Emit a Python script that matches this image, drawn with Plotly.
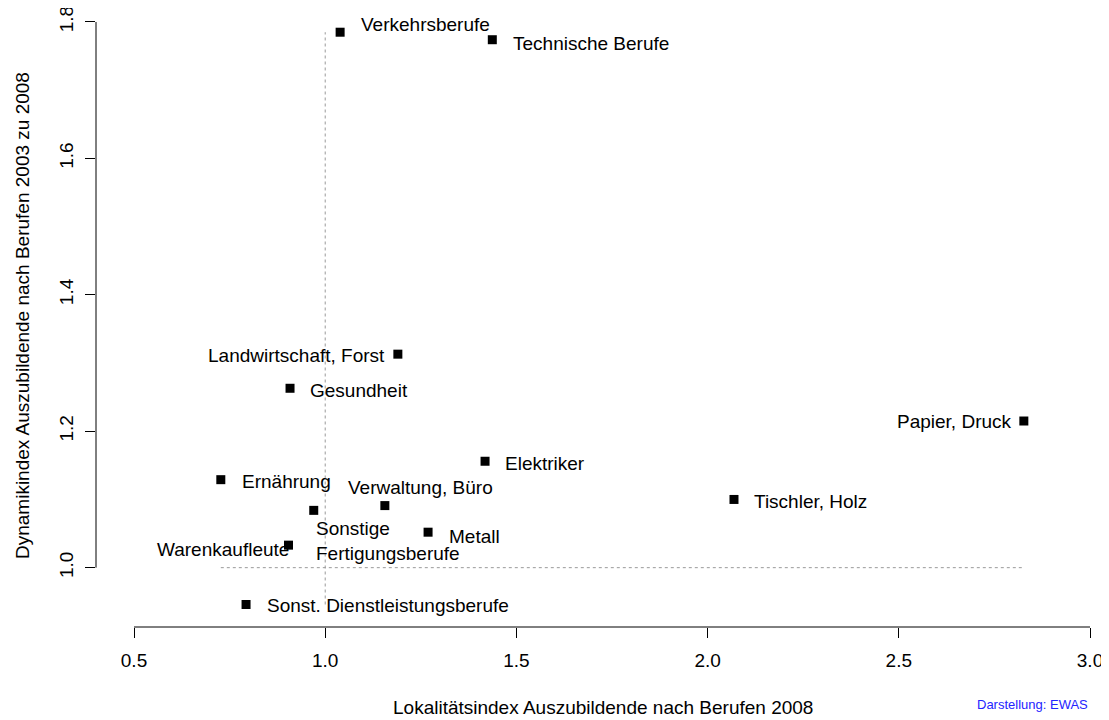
import plotly.graph_objects as go

# ---- data ----
berufe = [
    "Verkehrsberufe", "Technische Berufe", "Landwirtschaft, Forst", "Gesundheit",
    "Papier, Druck", "Elektriker", "Ernährung", "Tischler, Holz",
    "Verwaltung, Büro", "Sonstige<br>Fertigungsberufe", "Metall", "Warenkaufleute",
    "Sonst. Dienstleistungsberufe",
]
lokalitaet = [1.039, 1.437, 1.190, 0.908, 2.827, 1.418, 0.727, 2.069,
              1.156, 0.970, 1.269, 0.904, 0.793]
dynamik = [1.785, 1.774, 1.313, 1.263, 1.215, 1.156, 1.129, 1.100,
           1.091, 1.084, 1.052, 1.033, 0.946]

x_ticks = [0.5, 1.0, 1.5, 2.0, 2.5, 3.0]
x_ticklabels = ["0.5", "1.0", "1.5", "2.0", "2.5", "3.0"]
y_ticks = [1.0, 1.2, 1.4, 1.6, 1.8]
y_ticklabels = ["1.0", "1.2", "1.4", "1.6", "1.8"]

# label placement style: (xanchor, xshift, yshift)
label_style = [
    ("left", 19, 8), ("left", 19, -4), ("right", -11, -1), ("left", 18, -2),
    ("right", -10, 0), ("left", 18, -2), ("left", 19, -2), ("left", 18, -2),
    ("left", -39, 18), ("left", 0, -31), ("left", 19, -4), ("right", 2, -4),
    ("left", 19, -1),
]

FONT = "Liberation Sans, Arial, Helvetica, sans-serif"

fig = go.Figure()

# reference lines at 1.0 spanning data range
fig.add_trace(go.Scatter(
    x=[1.0, 1.0], y=[min(dynamik), max(dynamik)], mode="lines",
    line=dict(color="#9a9a9a", width=1, dash="dot"), hoverinfo="skip", showlegend=False))
fig.add_trace(go.Scatter(
    x=[min(lokalitaet), max(lokalitaet)], y=[1.0, 1.0], mode="lines",
    line=dict(color="#9a9a9a", width=1, dash="dot"), hoverinfo="skip", showlegend=False))

fig.add_trace(go.Scatter(
    x=lokalitaet, y=dynamik, mode="markers",
    marker=dict(symbol="square", size=9, color="black"),
    text=berufe, showlegend=False))

for name, xv, yv, (xa, xs, ys) in zip(berufe, lokalitaet, dynamik, label_style):
    fig.add_annotation(x=xv, y=yv, xref="x", yref="y", text=name, showarrow=False,
                       xanchor=xa, yanchor="middle", xshift=xs, yshift=ys,
                       align="left", font=dict(family=FONT, size=19, color="black"))

# R-style axis lines spanning first to last tick
fig.add_shape(type="line", xref="x", yref="paper", x0=min(x_ticks), x1=max(x_ticks),
              y0=0, y1=0, line=dict(color="black", width=1))
fig.add_shape(type="line", xref="paper", yref="y", x0=0, x1=0,
              y0=min(y_ticks), y1=max(y_ticks), line=dict(color="black", width=1))

# axis titles
fig.add_annotation(x=0.5, xref="paper", y=0, yref="paper", yanchor="middle", yshift=-80,
                   text="Lokalitätsindex Auszubildende nach Berufen 2008", showarrow=False,
                   font=dict(family=FONT, size=19, color="black"))
fig.add_annotation(xref="paper", x=0, xshift=-74, yref="paper", y=0.5024, xanchor="center",
                   yanchor="middle", textangle=-90,
                   text="Dynamikindex Auszubildende nach Berufen 2003 zu 2008", showarrow=False,
                   font=dict(family=FONT, size=19, color="black"))
fig.add_annotation(xref="x", x=3.0, xanchor="right", yref="paper", y=0, yshift=-77,
                   yanchor="middle",
                   text="Darstellung: EWAS", showarrow=False,
                   font=dict(family=FONT, size=13, color="#2424ff"))

fig.update_layout(
    width=1101, height=712,
    margin=dict(l=88, r=0, t=0, b=93, autoexpand=False),
    paper_bgcolor="white", plot_bgcolor="white",
    font=dict(family=FONT, size=19, color="black"),
    xaxis=dict(range=[0.4006, 3.0497], tickvals=x_ticks, ticktext=x_ticklabels,
               ticks="outside", ticklen=10, tickwidth=1, tickcolor="black",
               ticklabelstandoff=6, ticklabeloverflow="allow",
               showline=False, showgrid=False, zeroline=False, automargin=False,
               tickfont=dict(family=FONT, size=19)),
    yaxis=dict(range=[0.913, 1.8205], tickvals=y_ticks, ticktext=y_ticklabels,
               ticks="outside", ticklen=10, tickwidth=1, tickcolor="black",
               ticklabelstandoff=4, ticklabeloverflow="allow",
               tickangle=-90, showline=False, showgrid=False, zeroline=False,
               automargin=False, tickfont=dict(family=FONT, size=19)),
)

fig.write_html("out.html")
